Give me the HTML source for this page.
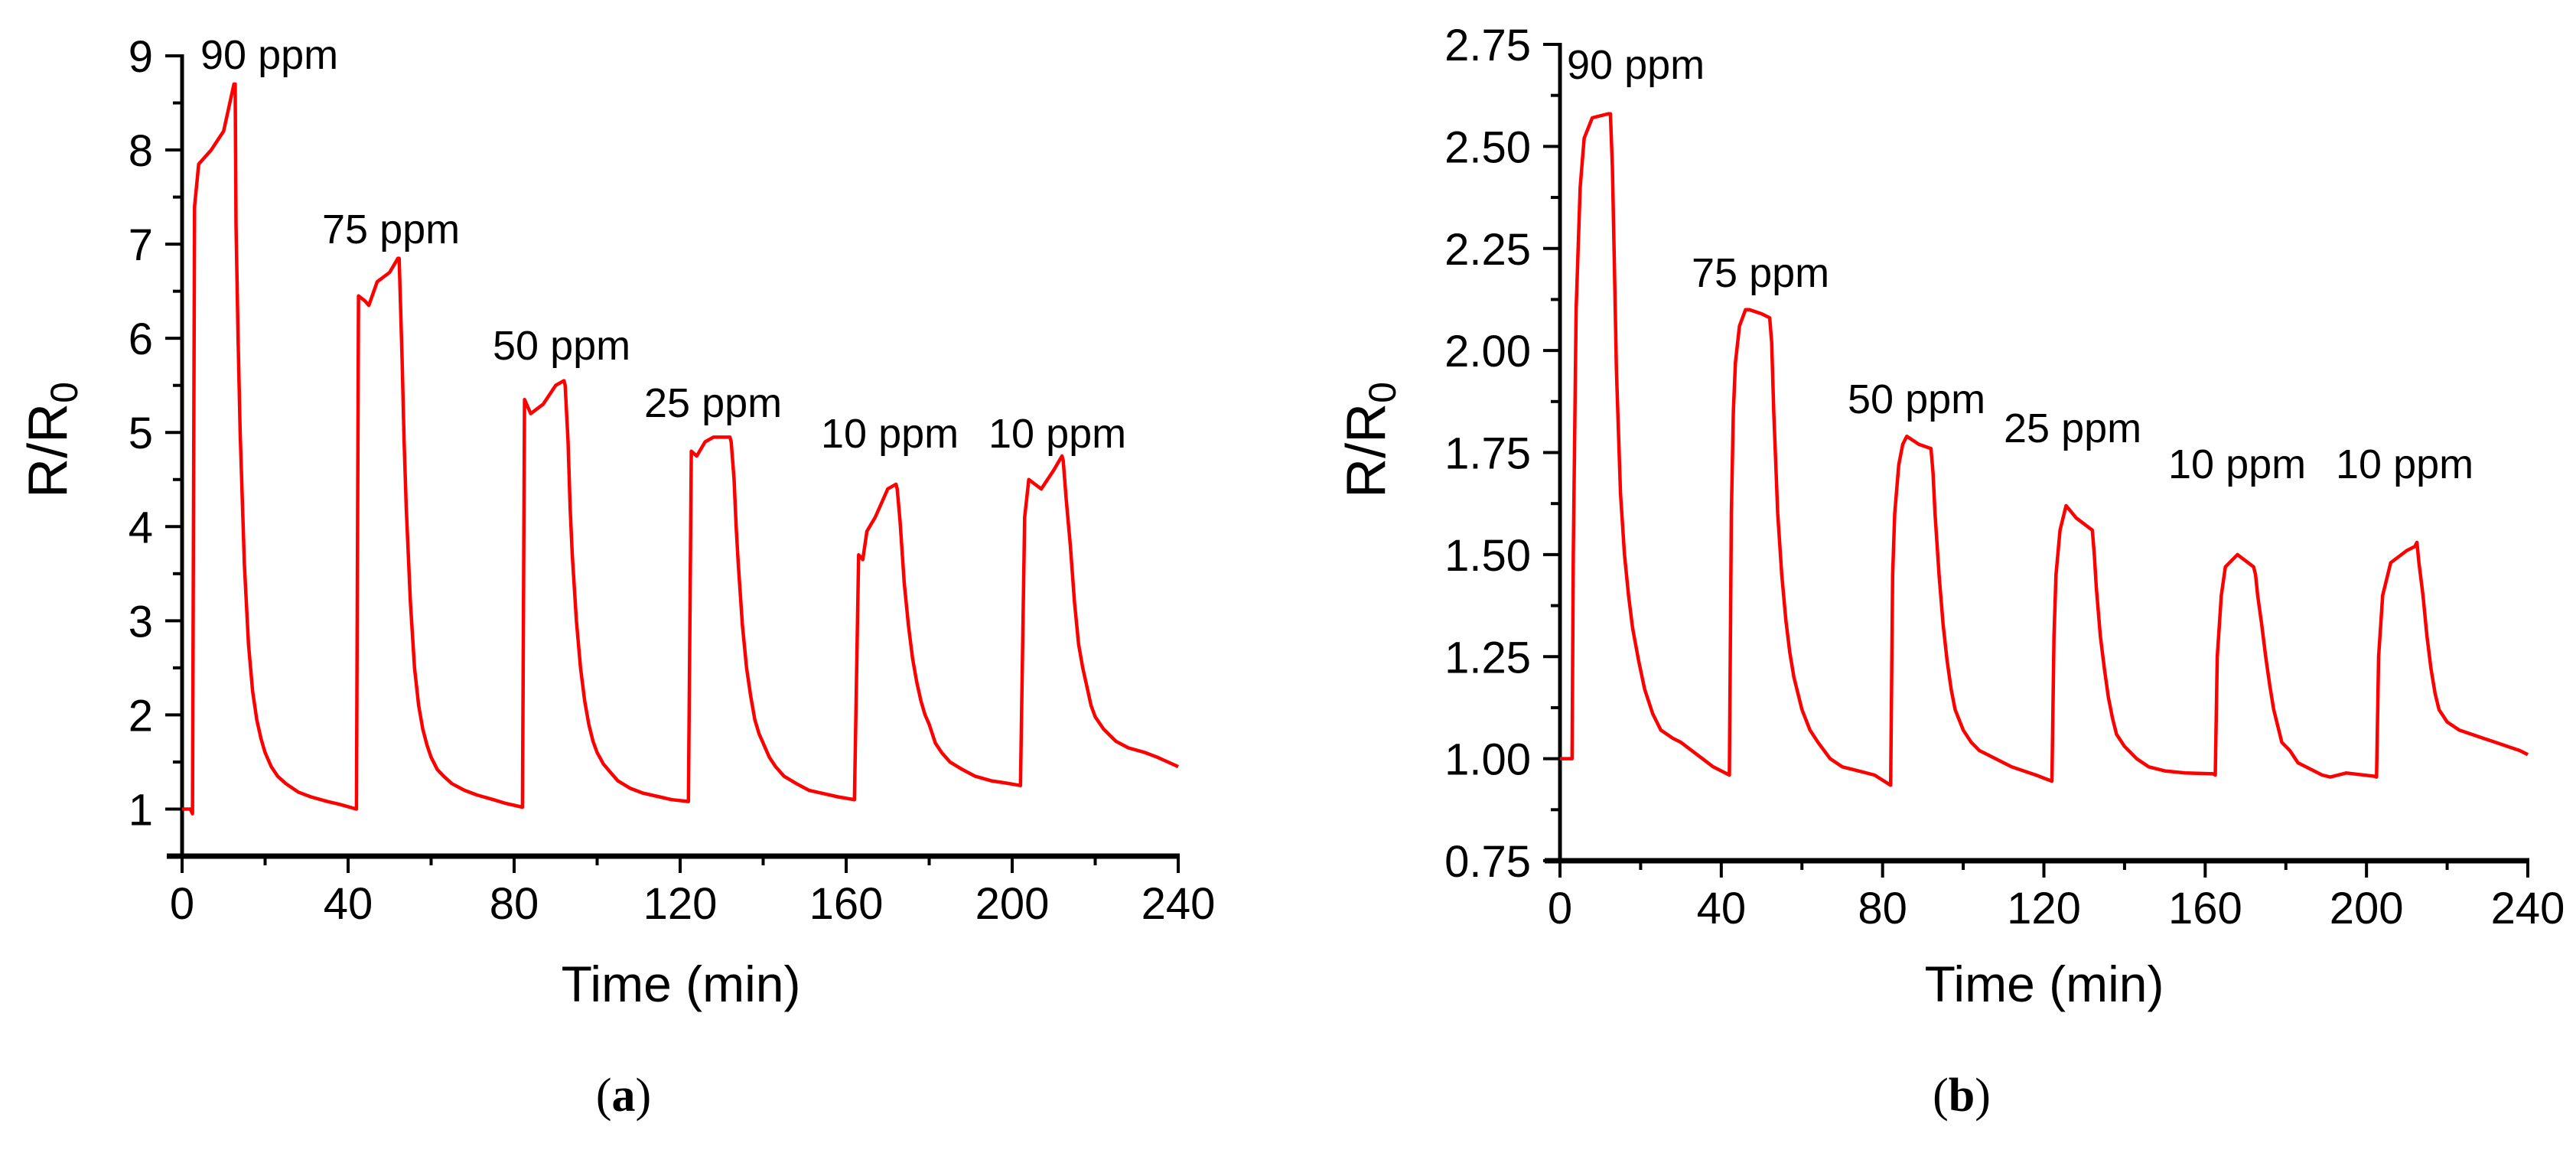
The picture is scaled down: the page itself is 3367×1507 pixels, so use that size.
<!DOCTYPE html>
<html><head><meta charset="utf-8"><style>
html,body{margin:0;padding:0;background:#fff;}
svg{display:block;font-family:"Liberation Sans",Arial,sans-serif;}
</style></head><body>
<svg id="fig" width="3367" height="1507" viewBox="0 0 3367 1507" xmlns="http://www.w3.org/2000/svg">
<g id="chartA"></g>
<g id="chartB"></g>
<text x="815" y="1452" font-family="Liberation Serif,serif" font-size="62" text-anchor="middle">(<tspan font-weight="bold">a</tspan>)</text>
<text x="2564" y="1452" font-family="Liberation Serif,serif" font-size="62" text-anchor="middle">(<tspan font-weight="bold">b</tspan>)</text>
</svg>
<script>
const timeA = [0,2,2.5,3,4,7,10,12.5,12.8,13,13.5,14,15,16,17,18,19,20,21.5,23,25,28,31,35,38,42,42.5,44,45,47,50,52,52.3,53,53.5,54,55,56,57,58,59,60,61.5,63,65,68,71,75,78,82,82.5,84,87,90,92,92.3,93,93.5,94,95,96,97,98,99,100,101.5,103,105,108,111,115,118,122,122.7,124,126,128,132,132.3,133,133.5,134,135,136,137,138,139,140,141.5,143,145,148,151,155,158,162,163,164,165,167,170,172,172.3,173,174,175,176,177,178,179,180,181.5,183,185,188,191,195,198,202,203,204,207,210,212,212.3,213,214,215,216,217,218,219,220,222,225,228,232,235,240];
const valuesA = [1,1,0.95,7.4,7.85,8.0,8.2,8.7,8.7,7.2,6.0,5.0,3.6,2.75,2.25,1.95,1.75,1.6,1.45,1.35,1.27,1.18,1.13,1.08,1.05,1.0,6.45,6.4,6.35,6.6,6.7,6.85,6.85,5.8,4.9,4.2,3.2,2.5,2.1,1.85,1.68,1.55,1.42,1.35,1.27,1.2,1.15,1.1,1.06,1.02,5.35,5.2,5.3,5.5,5.55,5.5,4.9,4.2,3.7,3.0,2.5,2.15,1.9,1.72,1.6,1.48,1.4,1.3,1.22,1.17,1.13,1.1,1.08,4.8,4.75,4.9,4.95,4.95,4.9,4.5,4.0,3.6,2.95,2.5,2.2,1.95,1.8,1.7,1.55,1.45,1.35,1.27,1.2,1.16,1.13,1.1,3.7,3.65,3.95,4.1,4.4,4.45,4.4,4.05,3.4,2.95,2.6,2.35,2.15,2.0,1.9,1.7,1.6,1.5,1.42,1.35,1.3,1.28,1.25,4.1,4.5,4.4,4.6,4.75,4.7,4.3,3.8,3.2,2.75,2.5,2.3,2.1,1.98,1.85,1.72,1.65,1.6,1.55,1.45];
const timeB = [0,3,3.3,4,5,6,8,12,12.5,13,13.5,14,15,16,17,18,19.5,21,23,25,28,30,34,38,42,42.5,43,43.5,44.5,46,47,50,52,52.5,53,54,55,56,57,58,60,62,64,67,70,74,78,82,82.5,83,84,85,86,89,92,92.5,93,94,95,96,97,98,100,102,104,108,112,115,118,122,122.5,123,124,125.5,128,132,132.5,133,134,135,136,137,138,140,143,146,150,155,162,162.5,163,164,165,168,172,172.5,173,174,175,176,177,178,179,181,183,186,189,191,195,202,202.5,203,204,206,210,212,212.5,213,214,215,216,217,218,220,223,226,229,232,235,238,240];
const valuesB = [1,1,1.5,2.1,2.4,2.52,2.57,2.58,2.58,2.45,2.2,1.95,1.65,1.5,1.4,1.32,1.24,1.17,1.11,1.07,1.05,1.04,1.01,0.98,0.96,1.6,1.85,1.97,2.06,2.1,2.1,2.09,2.08,2.02,1.85,1.6,1.45,1.34,1.26,1.2,1.12,1.07,1.04,1.0,0.98,0.97,0.96,0.935,1.45,1.6,1.72,1.77,1.79,1.77,1.76,1.7,1.6,1.45,1.33,1.24,1.17,1.12,1.07,1.04,1.02,1.0,0.98,0.97,0.96,0.945,1.3,1.45,1.56,1.62,1.59,1.56,1.5,1.42,1.3,1.22,1.15,1.1,1.06,1.03,1.0,0.98,0.97,0.965,0.963,0.96,1.25,1.4,1.47,1.5,1.47,1.45,1.4,1.33,1.25,1.18,1.12,1.08,1.04,1.02,0.99,0.975,0.96,0.955,0.965,0.957,0.955,1.25,1.4,1.48,1.51,1.52,1.53,1.48,1.4,1.3,1.22,1.16,1.12,1.09,1.07,1.06,1.05,1.04,1.03,1.02,1.01,1.005];
const xTicks = [0,40,80,120,160,200,240];
const yTicksA = [1,2,3,4,5,6,7,8,9];
const yTicksB = ["0.75","1.00","1.25","1.50","1.75","2.00","2.25","2.50","2.75"];
const labelsA = ["90 ppm","75 ppm","50 ppm","25 ppm","10 ppm","10 ppm"];
const labelsB = ["90 ppm","75 ppm","50 ppm","25 ppm","10 ppm","10 ppm"];
const NS="http://www.w3.org/2000/svg";
function mk(p,tag,attrs){const e=document.createElementNS(NS,tag);for(const k in attrs)e.setAttribute(k,attrs[k]);p.appendChild(e);return e;}
function draw(g,cfg){
  const sx=t=>cfg.x0+(t-0)/240*(cfg.x1-cfg.x0);
  const sy=v=>cfg.yb+(v-cfg.vmin)/(cfg.vmax-cfg.vmin)*(cfg.yt-cfg.yb);
  const ya=mk(g,'line',{x1:cfg.x0,y1:cfg.yb+3,x2:cfg.x0,y2:sy(cfg.vmax)-2,stroke:'#000','stroke-width':5});
  
  
  const xa=mk(g,'line',{x1:cfg.x0-20,y1:cfg.yb,x2:cfg.x1+2,y2:cfg.yb,stroke:'#000','stroke-width':7});
  
  
  for(let t=0;t<=240;t+=20){
    const maj=t%40===0;
    const tk=mk(g,'line',{x1:sx(t),y1:cfg.yb,x2:sx(t),y2:cfg.yb+(maj?22:12),stroke:'#000','stroke-width':4});
    
    
  }
  xTicks.forEach(t=>{
    const tx=mk(g,'text',{x:sx(t),y:cfg.yb+82,'font-size':58,'text-anchor':'middle'});
    tx.textContent=t;
    
    
  });
  for(let v=cfg.vmin;v<=cfg.vmax+1e-9;v+=cfg.minor){
    const k=Math.round((v-cfg.vmin)/cfg.minor);
    const maj=(k%2===0)!==cfg.oddMajor;
    const tk=mk(g,'line',{x1:cfg.x0,y1:sy(v),x2:cfg.x0-(maj?22:12),y2:sy(v),stroke:'#000','stroke-width':4});
    
    
  }
  cfg.yTicks.forEach(v=>{
    const tx=mk(g,'text',{x:cfg.x0-38,y:sy(parseFloat(v))+21,'font-size':58,'text-anchor':'end'});
    tx.textContent=v;
    
    
  });
  let d='';cfg.t.forEach((t,i)=>{d+=(i?'L':'M')+sx(t).toFixed(1)+','+sy(cfg.v[i]).toFixed(1);});
  const p=mk(g,'path',{d:d,fill:'none',stroke:'#ff0000','stroke-width':4.5,'stroke-linejoin':'round'});
  
  
  cfg.labels.forEach((s,i)=>{
    const a=mk(g,'text',{x:cfg.lp[i][0],y:cfg.lp[i][1],'font-size':54});
    a.textContent=s;
    
    
  });
  const xt=mk(g,'text',{x:cfg.xtc,y:1309,'font-size':66,'text-anchor':'middle'});
  xt.textContent='Time (min)';
  
  
  const yt=mk(g,'text',{transform:`translate(${cfg.ylx},575) rotate(-90)`,'font-size':72,'text-anchor':'middle'});
  yt.innerHTML='R/R<tspan font-size="50" dy="14">0</tspan>';
  
  
}
draw(document.getElementById('chartA'),{x0:238,x1:1540,yb:1119,yt:73,vmin:0.5,vmax:9,minor:0.5,oddMajor:true,
  yTicks:yTicksA,t:timeA,v:valuesA,labels:labelsA,xtc:890,ylx:87,
  lp:[[262,90],[421,318],[644,470],[842,545],[1073,585],[1292,585]]});
draw(document.getElementById('chartB'),{x0:2039,x1:3304,yb:1125,yt:58,vmin:0.75,vmax:2.75,minor:0.125,oddMajor:false,
  yTicks:yTicksB,t:timeB,v:valuesB,labels:labelsB,xtc:2672,ylx:1810,
  lp:[[2048,103],[2211,375],[2415,540],[2619,578],[2834,625],[3053,625]]});
</script>
</body></html>
